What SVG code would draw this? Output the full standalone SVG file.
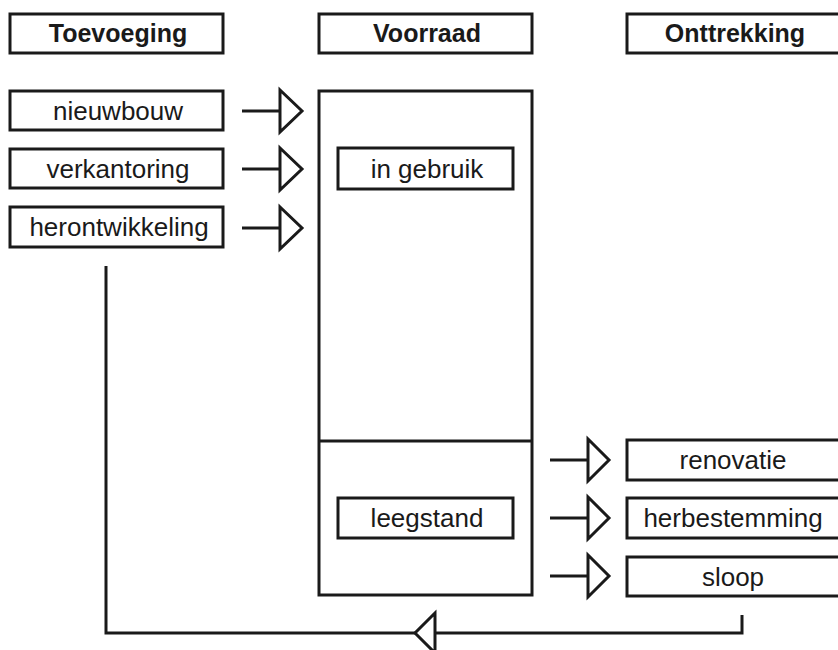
<svg xmlns="http://www.w3.org/2000/svg" width="838" height="650" viewBox="0 0 838 650">
<style>
.box{fill:#fff;stroke:#1a1a1a;stroke-width:3}
.t{font-family:"Liberation Sans",Arial,sans-serif;font-size:26px;fill:#1a1a1a;text-anchor:middle}
.h{font-family:"Liberation Sans",Arial,sans-serif;font-size:25px;font-weight:bold;fill:#1a1a1a;text-anchor:middle}
.ln{fill:none;stroke:#1a1a1a;stroke-width:3}
.hd{fill:#fff;stroke:#1a1a1a;stroke-width:3;stroke-linejoin:miter}
</style>
<rect width="838" height="650" fill="#fff"/>
<g id="toevoeging"><rect class="box" x="10" y="14" width="213" height="39"/><text class="h" x="118" y="42">Toevoeging</text></g>
<g id="voorraad-kop"><rect class="box" x="319" y="14" width="213" height="39"/><text class="h" x="427" y="42">Voorraad</text></g>
<g id="onttrekking"><rect class="box" x="627" y="14" width="213" height="39"/><text class="h" x="735" y="42">Onttrekking</text></g>
<g id="nieuwbouw"><rect class="box" x="10" y="91" width="213" height="39"/><text class="t" x="118" y="120">nieuwbouw</text></g>
<g id="verkantoring"><rect class="box" x="10" y="149" width="213" height="39"/><text class="t" x="118" y="178">verkantoring</text></g>
<g id="herontwikkeling"><rect class="box" x="10" y="207" width="213" height="40"/><text class="t" x="119" y="236">herontwikkeling</text></g>
<g id="voorraad"><rect class="box" x="319" y="91" width="213" height="504"/><line class="ln" x1="319" y1="441" x2="532" y2="441"/></g>
<g id="in-gebruik"><rect class="box" x="338" y="148" width="175" height="41"/><text class="t" x="427" y="178">in gebruik</text></g>
<g id="leegstand"><rect class="box" x="338" y="498" width="175" height="40"/><text class="t" x="427" y="527">leegstand</text></g>
<g id="renovatie"><rect class="box" x="627" y="440" width="213" height="40"/><text class="t" x="733" y="469">renovatie</text></g>
<g id="herbestemming"><rect class="box" x="627" y="498" width="213" height="40"/><text class="t" x="733" y="527">herbestemming</text></g>
<g id="sloop"><rect class="box" x="627" y="557" width="213" height="39"/><text class="t" x="733" y="586">sloop</text></g>
<g id="connectors">
<path class="ln" d="M242,111H282"/><polygon class="hd" points="280,90 302,111 280,132"/>
<path class="ln" d="M242,169H282"/><polygon class="hd" points="280,148 302,169 280,190"/>
<path class="ln" d="M242,228H282"/><polygon class="hd" points="280,207 302,228 280,249"/>
<path class="ln" d="M550,460H590"/><polygon class="hd" points="588,439 609,460 588,481"/>
<path class="ln" d="M550,518H590"/><polygon class="hd" points="588,497 609,518 588,539"/>
<path class="ln" d="M550,576H590"/><polygon class="hd" points="588,555 609,576 588,597"/>
<path class="ln" d="M742,615V633H106V266"/><polygon class="hd" points="435,613 415,633 435,653"/>
</g>
</svg>
